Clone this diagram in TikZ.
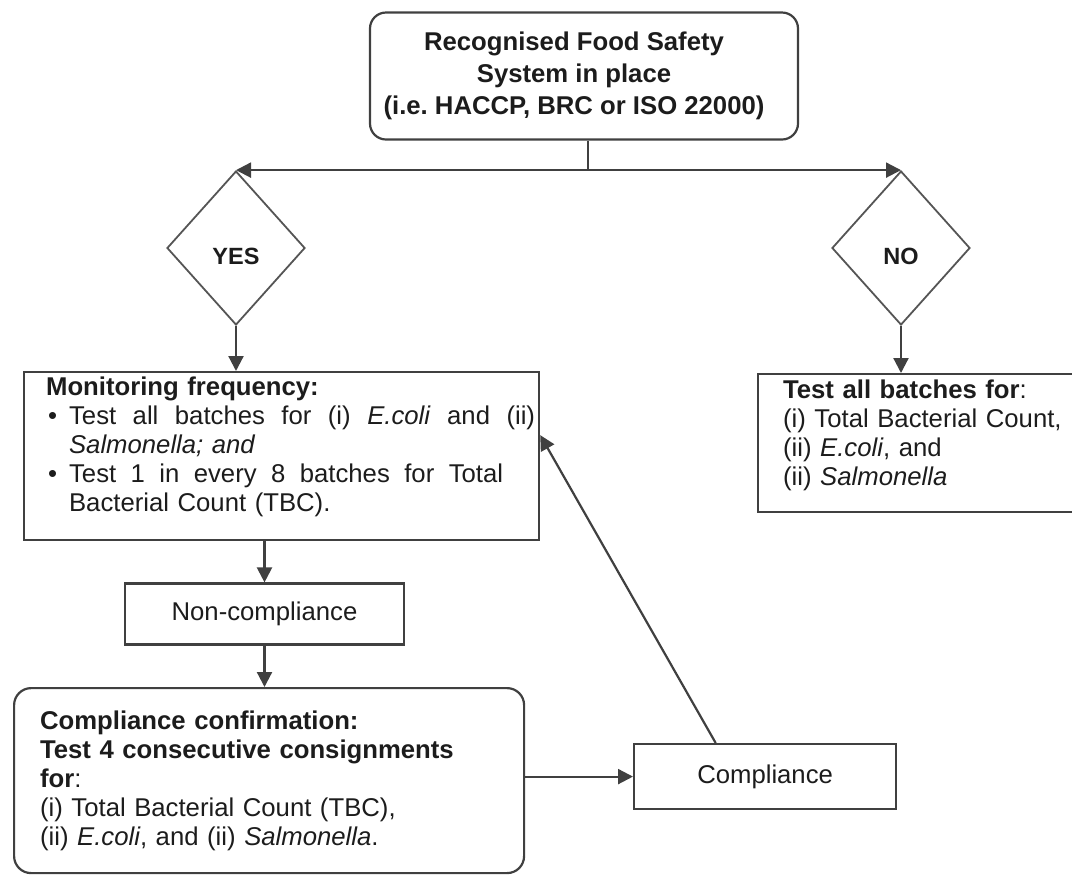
\documentclass[tikz,border=0pt]{standalone}
\usepackage{fontspec}
\setmainfont{Liberation Sans}
\usepackage{xcolor}
\usetikzlibrary{positioning, arrows.meta, shapes.geometric, calc}
\frenchspacing

\definecolor{linegray}{HTML}{404040}
\definecolor{edgegray}{HTML}{555555}
\definecolor{inkblack}{HTML}{1C1C1C}

\def\raster{0.5pt}
\newcommand{\bodyfont}{\fontsize{12.85pt}{14.5pt}\selectfont}
\newcommand{\headfont}{\fontsize{12.85pt}{16pt}\selectfont\bfseries}
\newcommand{\choicefont}{\fontsize{11.75pt}{13pt}\selectfont\bfseries}
% spread a line over a fixed width, like justified text
\newcommand{\spreadline}[2]{\makebox[#1][s]{\spaceskip=.278em plus 1fil\relax #2}}
% extra depth below the last line, lifts the text block
\newcommand{\lift}[1]{\rule[-#1]{0pt}{#1}}

\tikzset{
    >={Triangle[length=7.5pt, width=7.5pt]},
    plainbox/.style={draw=linegray, line width=1.1pt, text=inkblack, font=\bodyfont, inner ysep=0pt},
    roundbox/.style={plainbox, rounded corners=8pt},
    choice/.style={diamond, draw=edgegray, line width=0.9pt, text=inkblack, font=\choicefont,
        inner sep=0pt, minimum width=138*\raster, minimum height=154*\raster},
    flow/.style={draw=linegray, line width=1.1pt, ->}
}

\begin{document}
\begin{tikzpicture}[x=\raster, y=-\raster]
    \useasboundingbox (0,0) rectangle (1072,875);
    \clip (0,0) rectangle (1072,875);

    % question at the top
    \node[roundbox, font=\headfont, minimum width=428*\raster, minimum height=127*\raster] (system) at (584,76)
        {\begin{tabular}{@{}c@{}}Recognised Food Safety\\System in place\\(i.e. HACCP, BRC or ISO 22000)\end{tabular}\hspace*{10pt}};
    \coordinate (split) at (588,171);

    % answers
    \node[choice] (yes) at (236,248) {\raisebox{-4pt}[\height][\depth]{YES}};
    \node[choice] (no) at (901,248) {\raisebox{-4pt}[\height][\depth]{NO}};

    % recognised system in place
    \node[plainbox, anchor=north west, align=left, text width=235.5pt, inner xsep=11pt, minimum height=168*\raster] (monitor) at (23,371)
        {\textbf{Monitoring frequency:}\\
         \makebox[11.5pt][l]{\hspace{1pt}\textbullet}\spreadline{233pt}{Test all batches for (i) \textit{E.coli} and (ii)}\\
         \hspace*{11.5pt}\textit{Salmonella; and}\\
         \makebox[11.5pt][l]{\hspace{1pt}\textbullet}\spreadline{217pt}{Test 1 in every 8 batches for Total}\\
         \hspace*{11.5pt}Bacterial Count (TBC).\lift{12pt}};

    % no recognised system
    \node[plainbox, anchor=north west, align=left, text width=146.5pt, inner xsep=12.5pt, minimum height=138*\raster] (alltest) at (757,373)
        {\textbf{Test all batches for}:\\
         (i) Total Bacterial Count,\\
         (ii) \textit{E.coli}, and\\
         (ii) \textit{Salmonella}\lift{10pt}};

    \node[plainbox, minimum width=279*\raster, minimum height=61*\raster] (noncomp) at (264.5,614) {Non-compliance};

    \node[roundbox, rounded corners=8.5pt, anchor=north west, align=left, text width=229pt, inner xsep=13pt, minimum height=185*\raster] (confirm) at (13,687)
        {\textbf{Compliance confirmation:}\\
         \textbf{Test 4 consecutive consignments}\\
         \textbf{for}:\\
         (i) Total Bacterial Count (TBC),\\
         (ii) \textit{E.coli}, and (ii) \textit{Salmonella}.};

    \node[plainbox, anchor=north west, minimum width=262*\raster, minimum height=65*\raster] (comply) at (633,743) {Compliance};

    % connectors
    \draw[linegray, line width=1.1pt] (system.south -| split) -- (split);
    \draw[flow, <->] (yes.north) -- (no.north);
    \draw[flow] (yes.south) -- (yes.south |- monitor.north);
    \draw[flow] (no.south) -- (no.south |- alltest.north);
    \draw[flow] (noncomp.north |- monitor.south) -- (noncomp.north);
    \draw[flow] (noncomp.south) -- (noncomp.south |- confirm.north);
    \draw[flow] (comply.west -| confirm.east) -- (comply.west);
    \draw[flow] ($(comply.north west)!0.313!(comply.north east)$) -- ($(monitor.east)+(0,-21)$);
\end{tikzpicture}
\end{document}
